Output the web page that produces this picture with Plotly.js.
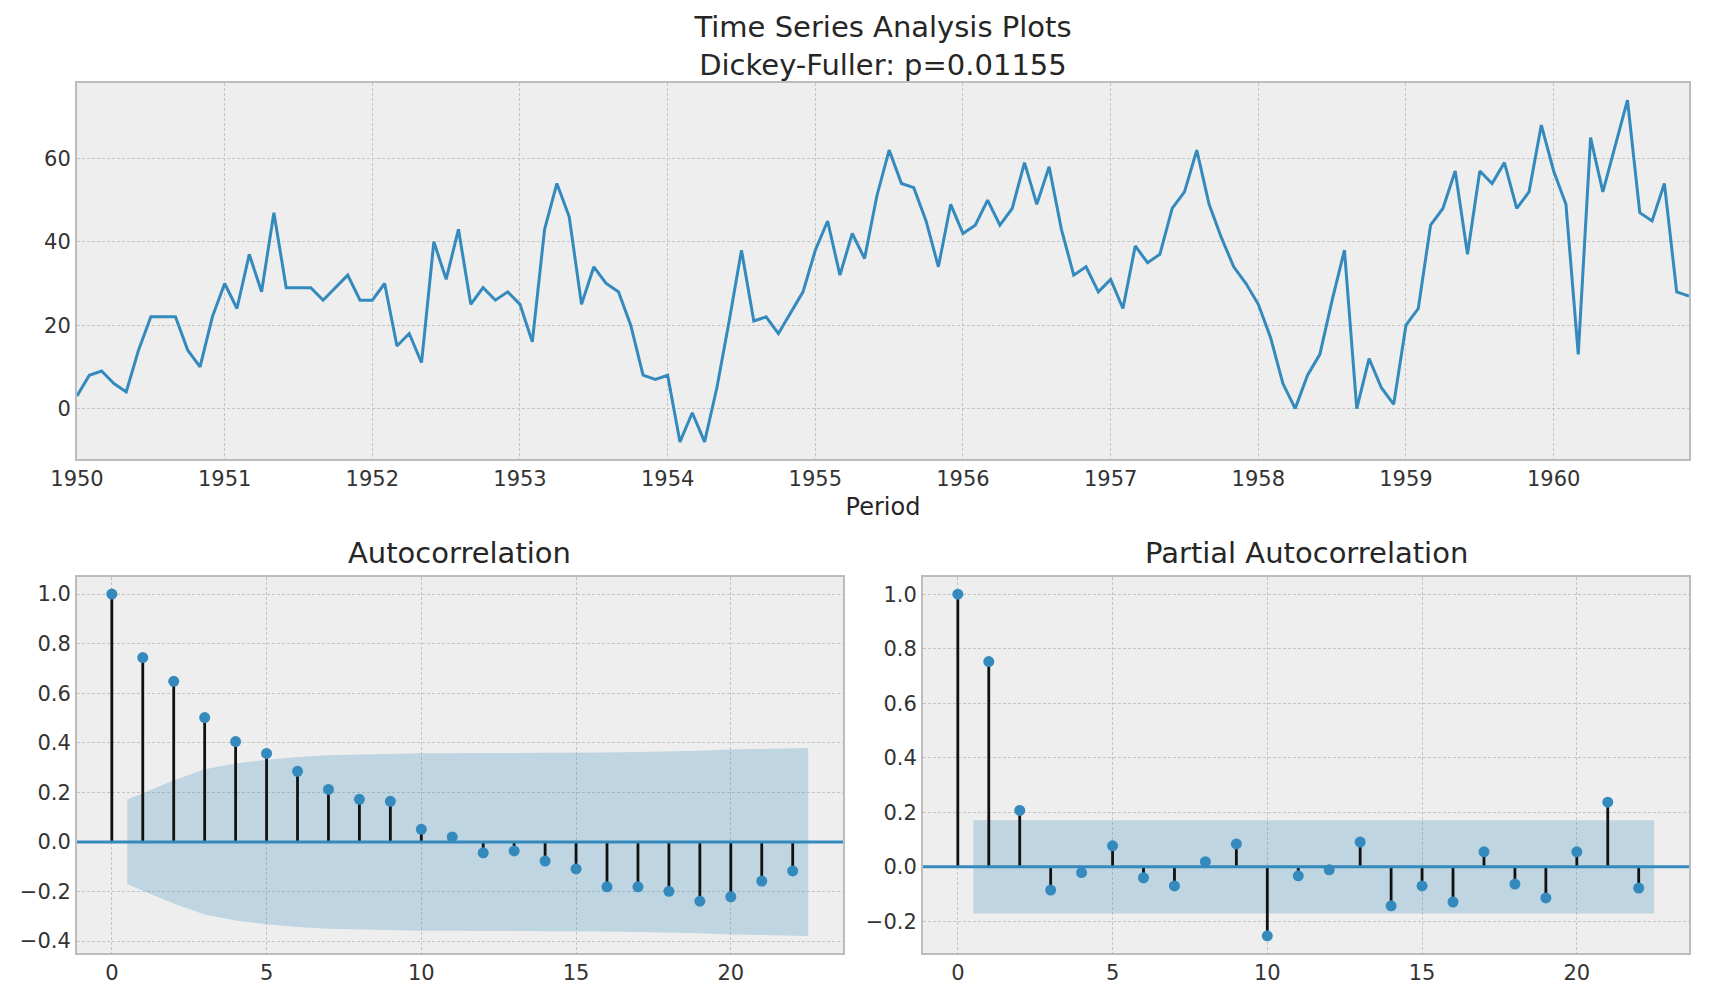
<!DOCTYPE html>
<html>
<head>
<meta charset="utf-8">
<script src="https://cdn.plot.ly/plotly-3.0.1.min.js"></script>
<style>
html,body{margin:0;padding:0;background:#ffffff;}
#chart{width:1716px;height:1000px;}
</style>
</head>
<body>
<div id="chart"></div>
<script>
// ---------- data ----------
const years = [1950, 1951, 1952, 1953, 1954, 1955, 1956, 1957, 1958, 1959, 1960];
const v1950 = [3, 8, 9, 6, 4, 14, 22, 22, 22, 14, 10, 22];
const v1951 = [30, 24, 37, 28, 47, 29, 29, 29, 26, 29, 32, 26];
const v1952 = [26, 30, 15, 18, 11, 40, 31, 43, 25, 29, 26, 28];
const v1953 = [25, 16, 43, 54, 46, 25, 34, 30, 28, 20, 8, 7];
const v1954 = [8, -8, -1, -8, 5, 21, 38, 21, 22, 18, 23, 28];
const v1955 = [38, 45, 32, 42, 36, 51, 62, 54, 53, 45, 34, 49];
const v1956 = [42, 44, 50, 44, 48, 59, 49, 58, 43, 32, 34, 28];
const v1957 = [31, 24, 39, 35, 37, 48, 52, 62, 49, 41, 34, 30];
const v1958 = [25, 17, 6, 0, 8, 13, 26, 38, 0, 12, 5, 1];
const v1959 = [20, 24, 44, 48, 57, 37, 57, 54, 59, 48, 52, 68];
const v1960 = [57, 49, 13, 65, 52, 63, 74, 47, 45, 54, 28, 27];
const seriesByYear = [v1950, v1951, v1952, v1953, v1954, v1955, v1956, v1957, v1958, v1959, v1960];

const lags = [0, 1, 2, 3, 4, 5, 6, 7, 8, 9, 10, 11, 12, 13, 14, 15, 16, 17, 18, 19, 20, 21, 22];
const acfValues = [1.0, 0.744, 0.648, 0.502, 0.405, 0.357, 0.285, 0.212, 0.172, 0.164, 0.051, 0.020,
                   -0.044, -0.036, -0.077, -0.109, -0.181, -0.181, -0.199, -0.239, -0.221, -0.158, -0.117];
// confidence half-width for lags 1..22
const acfBand = [0.171, 0.248, 0.293, 0.317, 0.332, 0.343, 0.350, 0.353, 0.356, 0.358, 0.358,
                 0.358, 0.359, 0.359, 0.360, 0.361, 0.363, 0.365, 0.368, 0.373, 0.376, 0.379];
const pacfValues = [1.0, 0.753, 0.207, -0.085, -0.021, 0.077, -0.040, -0.070, 0.019, 0.084, -0.253, -0.033,
                    -0.011, 0.091, -0.143, -0.070, -0.129, 0.055, -0.063, -0.114, 0.055, 0.237, -0.078];
const pacfBand = [0.171, 0.171, 0.171, 0.171, 0.171, 0.171, 0.171, 0.171, 0.171, 0.171, 0.171,
                  0.171, 0.171, 0.171, 0.171, 0.171, 0.171, 0.171, 0.171, 0.171, 0.171, 0.171];

const acfTicks = [-0.4, -0.2, 0.0, 0.2, 0.4, 0.6, 0.8, 1.0];
const pacfTicks = [-0.2, 0.0, 0.2, 0.4, 0.6, 0.8, 1.0];
const lagTicks = [0, 5, 10, 15, 20];
const seriesTicks = [0, 20, 40, 60];

// ---------- build ----------
const FONT = 'DejaVu Sans, sans-serif';
const C0 = '#348ABD';
const BAND = 'rgba(52,138,189,0.25)';
const lagRange = [-1.125, 23.625];

const tsX = [], tsY = [];
seriesByYear.forEach((arr, yi) => {
  arr.forEach((v, m) => { tsX.push(years[yi] + m / 12); tsY.push(v); });
});

function corrTraces(values, band, xa, ya) {
  const bx = lags.slice(1).map(Number);
  bx[0] -= 0.5;
  bx[bx.length - 1] += 0.5;
  const sx = [], sy = [];
  lags.forEach((l, i) => { sx.push(l, l, null); sy.push(0, values[i], null); });
  return [
    {x: bx, y: band.map(v => -v), type: 'scatter', mode: 'lines', line: {width: 0, color: BAND},
     xaxis: xa, yaxis: ya, hoverinfo: 'skip', showlegend: false},
    {x: bx, y: band, type: 'scatter', mode: 'lines', line: {width: 0, color: BAND},
     fill: 'tonexty', fillcolor: BAND, xaxis: xa, yaxis: ya, hoverinfo: 'skip', showlegend: false},
    {x: sx, y: sy, type: 'scatter', mode: 'lines', line: {color: '#111111', width: 2.8},
     xaxis: xa, yaxis: ya, showlegend: false, connectgaps: false},
    {x: lagRange, y: [0, 0], type: 'scatter', mode: 'lines', line: {color: C0, width: 3},
     xaxis: xa, yaxis: ya, showlegend: false, hoverinfo: 'skip'},
    {x: lags, y: values, type: 'scatter', mode: 'markers', marker: {color: C0, size: 11},
     xaxis: xa, yaxis: ya, showlegend: false}
  ];
}

const traces = [
  {x: tsX, y: tsY, type: 'scatter', mode: 'lines', line: {color: C0, width: 3},
   xaxis: 'x', yaxis: 'y', showlegend: false}
].concat(corrTraces(acfValues, acfBand, 'x2', 'y2'))
 .concat(corrTraces(pacfValues, pacfBand, 'x3', 'y3'));

const base = {
  showgrid: true, gridcolor: '#c4c4c4', griddash: '3px,2px', gridwidth: 1,
  zeroline: false, showline: true, linecolor: '#bcbcbc', linewidth: 2, mirror: true,
  ticks: '', tickfont: {family: FONT, size: 21, color: '#333333'}, automargin: false, fixedrange: true
};

const W = 1716, H = 1000;
const topDomX = [77 / W, 1689 / W], topDomY = [1 - 459 / H, 1 - 83 / H];
const blDomX = [77 / W, 843 / W], brDomX = [923 / W, 1689 / W], botDomY = [1 - 953 / H, 1 - 577 / H];

const layout = {
  width: W, height: H,
  margin: {l: 0, r: 0, t: 0, b: 0},
  paper_bgcolor: '#ffffff', plot_bgcolor: '#eeeeee',
  font: {family: FONT, color: '#262626'},
  showlegend: false,
  title: {text: 'Time Series Analysis Plots<br>Dickey-Fuller: p=0.01155', x: (topDomX[0] + topDomX[1]) / 2,
          xanchor: 'center', y: 1 - 37 / H, yanchor: 'middle', font: {family: FONT, size: 29, color: '#262626'}},
  xaxis: Object.assign({}, base, {domain: topDomX, anchor: 'y', range: [1950, 1960 + 11 / 12],
          tickvals: years, ticktext: years.map(String),
          title: {text: 'Period', font: {family: FONT, size: 24, color: '#262626'}, standoff: 8}}),
  yaxis: Object.assign({}, base, {domain: topDomY, anchor: 'x', range: [-12.1, 78.1], tickvals: seriesTicks}),
  xaxis2: Object.assign({}, base, {domain: blDomX, anchor: 'y2', range: lagRange, tickvals: lagTicks}),
  yaxis2: Object.assign({}, base, {domain: botDomY, anchor: 'x2', range: [-0.448, 1.069], tickvals: acfTicks, tickformat: '.1f'}),
  xaxis3: Object.assign({}, base, {domain: brDomX, anchor: 'y3', range: lagRange, tickvals: lagTicks}),
  yaxis3: Object.assign({}, base, {domain: botDomY, anchor: 'x3', range: [-0.316, 1.063], tickvals: pacfTicks, tickformat: '.1f'}),
  annotations: [
    {text: 'Autocorrelation', xref: 'paper', yref: 'paper', x: (blDomX[0] + blDomX[1]) / 2, y: 1 - 553 / H,
     xanchor: 'center', yanchor: 'middle', showarrow: false, font: {family: FONT, size: 29, color: '#262626'}},
    {text: 'Partial Autocorrelation', xref: 'paper', yref: 'paper', x: (brDomX[0] + brDomX[1]) / 2, y: 1 - 553 / H,
     xanchor: 'center', yanchor: 'middle', showarrow: false, font: {family: FONT, size: 29, color: '#262626'}}
  ]
};

Plotly.newPlot('chart', traces, layout, {displayModeBar: false, staticPlot: true});
</script>
</body>
</html>
